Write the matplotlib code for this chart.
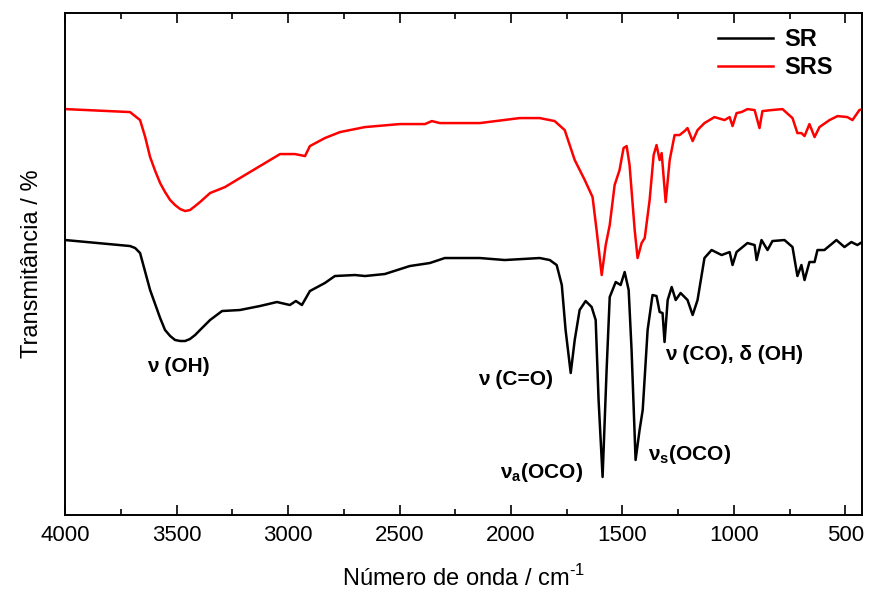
import numpy as np
import matplotlib
matplotlib.use("Agg")
import matplotlib.pyplot as plt

plt.rcParams['font.family'] = ['Liberation Sans', 'DejaVu Sans']
plt.rcParams['mathtext.fontset'] = 'custom'
plt.rcParams['mathtext.rm'] = 'Liberation Sans'
plt.rcParams['mathtext.bf'] = 'Liberation Sans:bold'

# SR spectrum (wavenumber in cm-1, transmittance in arbitrary %)
wn_sr = [4000, 3709, 3686, 3664, 3619, 3574, 3552, 3529, 3507, 3484, 3462, 3440,
         3417, 3395, 3350, 3296, 3216, 3126,
         3050, 2992, 2965, 2938, 2902, 2835, 2790, 2700, 2655, 2566, 2454, 2364,
         2297, 2140, 2028, 1871, 1826, 1795, 1772, 1755, 1732, 1714, 1692, 1665,
         1638, 1620, 1607, 1589, 1571, 1557, 1530, 1508, 1490, 1472, 1459, 1441,
         1423, 1409, 1387, 1365, 1347, 1333, 1320, 1311, 1297, 1279, 1261, 1239,
         1208, 1185, 1163, 1132, 1100, 1055, 1019, 1006, 988, 939, 907, 898, 876,
         849, 827, 773, 737, 715, 697, 683, 661, 638, 625, 594, 540, 504, 473,
         446, 410]
t_sr = [55.0, 53.8, 53.4, 52.4, 45.0, 39.4, 37.0, 35.8, 35.0, 34.8, 34.8, 35.2,
        36.0, 37.0, 39.0, 40.8, 41.0, 41.8,
        42.6, 42.0, 42.8, 42.0, 44.8, 46.4, 47.8, 48.0, 47.8, 48.2, 49.8, 50.4,
        51.4, 51.4, 51.0, 51.4, 51.0, 50.0, 46.0, 37.0, 28.4, 35.0, 41.0, 42.8,
        41.6, 39.0, 23.0, 7.6, 29.0, 43.6, 46.6, 46.0, 48.6, 45.0, 33.0, 11.0,
        17.0, 21.0, 37.0, 44.0, 43.8, 40.6, 40.4, 34.6, 43.0, 45.6, 43.0, 44.4,
        43.0, 40.0, 43.0, 51.4, 53.0, 52.0, 52.6, 50.0, 52.6, 54.4, 54.0, 51.0, 55.0,
        53.0, 54.8, 55.0, 53.6, 47.8, 50.0, 47.0, 50.6, 50.6, 53.0, 53.0, 55.0, 53.6, 54.6,
        54.0, 55.0]

# SRS spectrum
wn_srs = [4000, 3709, 3664, 3641, 3619, 3596, 3574, 3552, 3529, 3507, 3484, 3462,
          3440, 3417, 3395, 3350, 3283, 3216, 3126,
          3036, 2969, 2924, 2902, 2835, 2767, 2655, 2499, 2386, 2355, 2319, 2140,
          1961, 1871, 1804, 1759, 1714, 1669, 1634, 1616, 1593, 1575, 1557, 1535,
          1513, 1495, 1481, 1468, 1445, 1432, 1414, 1400, 1378, 1360, 1347, 1333,
          1324, 1306, 1288, 1266, 1244, 1221, 1208, 1185, 1163, 1132, 1087, 1042,
          1019, 1006, 988, 966, 939, 907, 885, 872, 831, 782, 737, 715, 697, 683,
          661, 638, 616, 571, 535, 491, 468, 437, 410]
t_srs = [81.2, 80.6, 79.0, 75.6, 71.6, 68.8, 66.4, 64.6, 63.0, 62.0, 61.2, 60.8,
         61.0, 61.8, 62.6, 64.4, 65.6, 67.4, 69.8,
         72.2, 72.2, 71.8, 73.8, 75.4, 76.6, 77.6, 78.2, 78.2, 78.8, 78.4, 78.4,
         79.4, 79.4, 78.8, 77.0, 71.0, 67.0, 63.6, 57.0, 48.0, 54.0, 58.0, 66.0,
         69.0, 73.4, 73.8, 70.0, 57.0, 51.4, 54.4, 55.4, 63.0, 72.0, 74.0, 71.0,
         72.4, 62.6, 71.0, 76.0, 76.0, 76.8, 77.4, 74.8, 77.0, 78.4, 79.6, 79.0,
         79.6, 77.8, 80.4, 80.6, 81.2, 81.0, 77.4, 80.8, 81.0, 81.2, 79.4, 76.4, 76.4, 75.8,
         78.2, 75.6, 77.6, 79.0, 79.8, 79.6, 79.0, 81.0, 81.4]

labels = ["ν (OH)", "ν (C=O)", r"ν$_{\mathbf{a}}$(OCO)", r"ν$_{\mathbf{s}}$(OCO)",
          "ν (CO), δ (OH)"]
label_wn = [3494, 1979, 1862, 1199, 997]
label_t = [29.6, 27.0, 8.4, 12.0, 32.0]

fig = plt.figure(figsize=(8.69, 5.96), dpi=100)
ax = fig.add_axes([0.075, 0.136, 0.917, 0.842])

ax.plot(wn_sr, t_sr, color='black', linewidth=1.8, label='SR')
ax.plot(wn_srs, t_srs, color='red', linewidth=1.8, label='SRS')

for lab, x, y in zip(labels, label_wn, label_t):
    ax.text(x, y, lab, ha='center', va='center', fontsize=15, fontweight='bold')

ax.set_xlim(4000, 425)
ax.set_ylim(0, 100.4)
ax.set_xticks(np.arange(4000, 400, -500))
ax.set_xticks(np.arange(3750, 400, -500), minor=True)
ax.set_yticks([])
ax.tick_params(axis='x', which='major', direction='in', length=7, width=1.2,
               top=True, labelsize=16, pad=7)
ax.tick_params(axis='x', which='minor', direction='in', length=4, width=1.2, top=True)
for s in ax.spines.values():
    s.set_linewidth(1.4)

ax.set_xlabel(r'Número de onda / cm$^{\text{-1}}$', fontsize=17, labelpad=14)
ax.set_ylabel('Transmitância / %', fontsize=17, labelpad=16)

leg = ax.legend(loc='upper right', bbox_to_anchor=(0.99, 1.012), frameon=False,
                prop={'weight': 'bold', 'size': 17}, handlelength=2.3,
                handletextpad=0.5, labelspacing=0.2)

fig.savefig('out.png', dpi=100)
